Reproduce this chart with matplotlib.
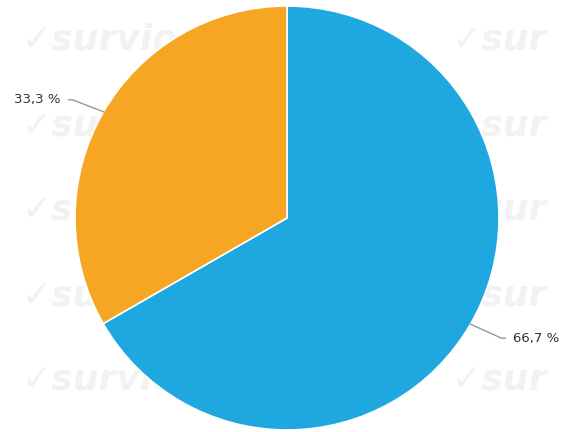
import numpy as np
import matplotlib
matplotlib.use("Agg")
from matplotlib import pyplot as plt

labels = ["66,7 %", "33,3 %"]
values = [66.7, 33.3]
colors = ["#1fa8e0", "#f7a623"]

fig = plt.figure(figsize=(5.61, 4.32), dpi=100)
ax = fig.add_axes([0, 0, 1, 1])

# faint watermark behind the pie
for yy in [392, 307, 222, 137, 52]:
    ax.text(22, yy, "\u2713survio", fontsize=26, fontweight="bold", style="italic",
            color="#f2f2f2", va="center", ha="left", zorder=0)
    ax.text(452, yy, "\u2713sur", fontsize=26, fontweight="bold", style="italic",
            color="#f2f2f2", va="center", ha="left", zorder=0)

cx, cy, r = 287, 214, 212
wedges, _ = ax.pie(values, colors=colors, startangle=90, counterclock=False,
                   center=(cx, cy), radius=r, frame=True,
                   wedgeprops=dict(edgecolor="white", linewidth=1.2))
ax.set_xlim(0, 561)
ax.set_ylim(0, 432)
ax.axis("off")

for w, lab in zip(wedges, labels):
    ang = np.deg2rad((w.theta1 + w.theta2) / 2)
    px, py = cx + r * np.cos(ang), cy + r * np.sin(ang)
    side = 1 if np.cos(ang) > 0 else -1
    ex = px + side * 31
    ey = py - 14 if side > 0 else py + 12
    ax.plot([px, ex, ex + side * 4], [py, ey, ey], color="#999999", lw=1, zorder=5)
    ax.text(ex + side * 12, ey, lab, ha="left" if side > 0 else "right", va="center",
            fontsize=9.5, color="#333333", zorder=5)

fig.savefig("out.png", dpi=100)
